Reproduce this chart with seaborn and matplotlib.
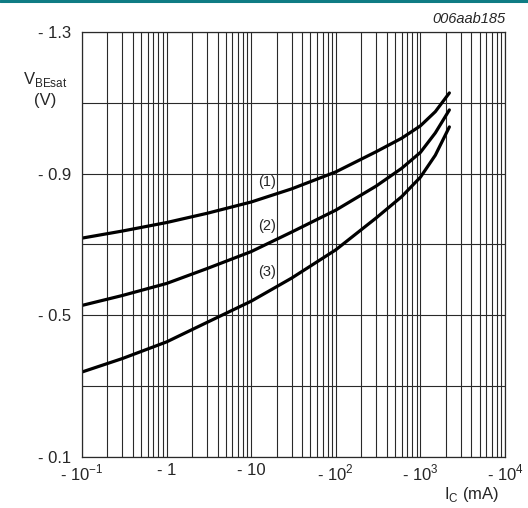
import numpy as np
import pandas as pd
import matplotlib
matplotlib.use('Agg')
import matplotlib.pyplot as plt
from matplotlib.lines import Line2D
import seaborn as sns

# collector current magnitude (mA) and |VBEsat| (V)
ic_ma = [0.1, 0.3, 1, 3, 10, 30, 100, 300, 600, 1000, 1500, 2200]
vbe_1 = [0.718, 0.738, 0.762, 0.788, 0.82, 0.857, 0.905, 0.962, 1.0, 1.035, 1.075, 1.128]
vbe_2 = [0.528, 0.556, 0.59, 0.632, 0.68, 0.735, 0.797, 0.865, 0.915, 0.96, 1.015, 1.08]
vbe_3 = [0.34, 0.378, 0.425, 0.48, 0.54, 0.605, 0.685, 0.775, 0.835, 0.89, 0.952, 1.032]
curve_names = ['(1)', '(2)', '(3)']

y_ticks = [1.3, 0.9, 0.5, 0.1]
y_grid = [1.3, 1.1, 0.9, 0.7, 0.5, 0.3, 0.1]
x_ticks = [0.1, 1, 10, 100, 1000, 10000]
x_labels = ['- 10$^{\\mathregular{- 1}}$', '- 1', '- 10', '- 10$^{\\mathregular{2}}$',
            '- 10$^{\\mathregular{3}}$', '- 10$^{\\mathregular{4}}$']

df = pd.concat([
    pd.DataFrame({'ic': ic_ma, 'vbe': v, 'curve': n})
    for v, n in zip([vbe_1, vbe_2, vbe_3], curve_names)
])

sns.set_style('white')
plt.rcParams['font.family'] = ['Liberation Sans', 'DejaVu Sans']
plt.rcParams['mathtext.fontset'] = 'custom'
plt.rcParams['mathtext.rm'] = 'Liberation Sans'

fig = plt.figure(figsize=(5.28, 5.08), dpi=100)
ax = fig.add_axes([82 / 528, 1 - 457 / 508, 423 / 528, 425 / 508])

for name in curve_names:
    sns.lineplot(data=df[df.curve == name], x='ic', y='vbe', color='black',
                 lw=2.3, ax=ax, sort=False, legend=False)

ax.set_xscale('log')
ax.set_xlim(0.1, 10000)
ax.set_ylim(0.1, 1.3)

ax.set_xticks(x_ticks)
ax.set_xticklabels(x_labels, fontsize=12)
ax.xaxis.set_minor_locator(matplotlib.ticker.LogLocator(base=10, subs=np.arange(2, 10)))
ax.xaxis.set_minor_formatter(matplotlib.ticker.NullFormatter())
ax.set_yticks(y_ticks)
ax.set_yticklabels(['- %.1f' % v for v in y_ticks], fontsize=12)
ax.set_yticks(y_grid, minor=True)
ax.tick_params(which='both', length=0)
ax.tick_params(axis='x', pad=4)
ax.tick_params(axis='y', pad=8)

ax.grid(True, which='both', color='#2a2a2a', lw=0.8)
for s in ax.spines.values():
    s.set_color('#2a2a2a')
    s.set_linewidth(0.9)
ax.set_xlabel('')
ax.set_ylabel('')

# curve labels
for name, y in zip(curve_names, [0.876, 0.752, 0.622]):
    ax.text(15.4, y, name, fontsize=10.5, ha='center', va='center',
            bbox=dict(facecolor='white', edgecolor='none', pad=0.3))

fig.text(45 / 528, 1 - 80 / 508, 'V$_{\\mathregular{BEsat}}$', fontsize=12, ha='center', va='center')
fig.text(45 / 528, 1 - 100 / 508, '(V)', fontsize=12, ha='center', va='center')
fig.text(472 / 528, 1 - 494 / 508, 'I$_{\\mathregular{C}}$ (mA)', fontsize=12, ha='center', va='center')
fig.text(505 / 528, 1 - 19 / 508, '006aab185', fontsize=10.5, style='italic', ha='right', va='center')

fig.add_artist(Line2D([0, 1], [0.998, 0.998], color='#0f7c84', lw=2.2, transform=fig.transFigure))

fig.savefig('out.png', dpi=100)
